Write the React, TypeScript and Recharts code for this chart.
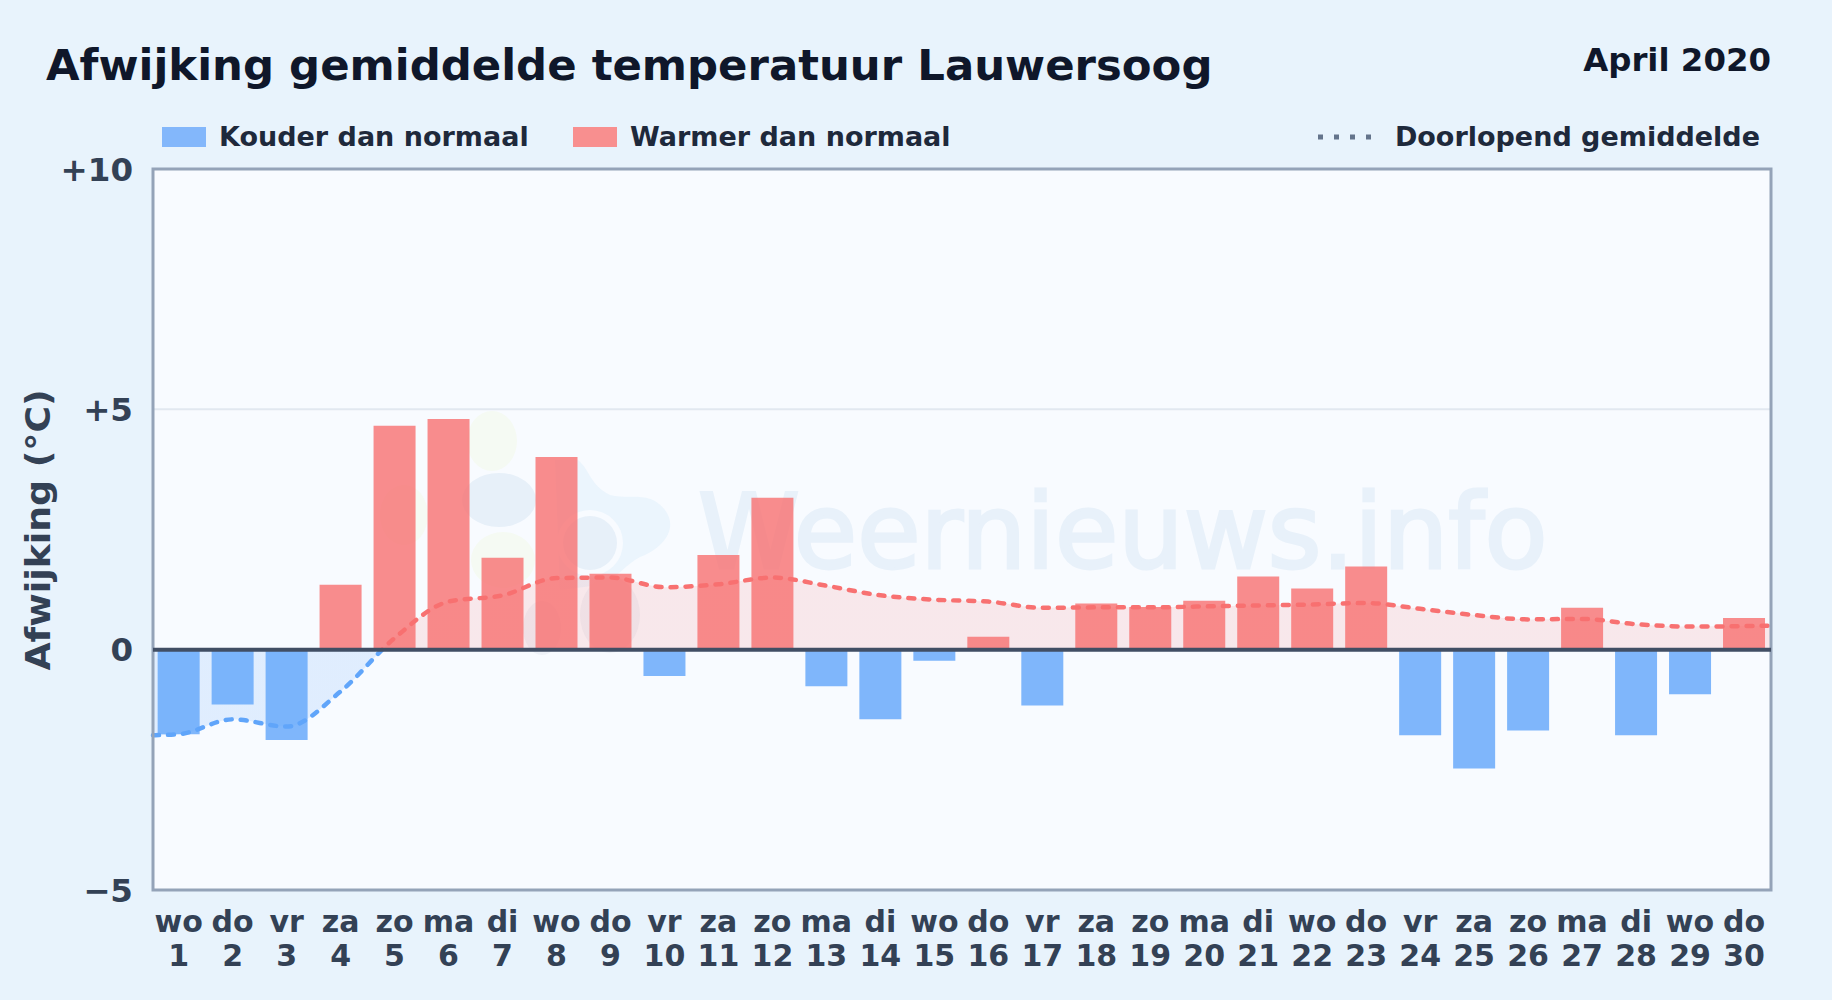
import {
  Area,
  Bar,
  CartesianGrid,
  ComposedChart,
  ReferenceArea,
  ReferenceLine,
  XAxis,
  YAxis,
} from "recharts";

const FONT = "'DejaVu Sans', sans-serif";

const WEEKDAYS = [
  "wo", "do", "vr", "za", "zo", "ma", "di", "wo", "do", "vr",
  "za", "zo", "ma", "di", "wo", "do", "vr", "za", "zo", "ma",
  "di", "wo", "do", "vr", "za", "zo", "ma", "di", "wo", "do",
];
const DAYS = WEEKDAYS.map((_, i) => i + 1);

const DEVIATION = [
  -1.76, -1.14, -1.88, 1.35, 4.66, 4.8, 1.91, 4.01, 1.58, -0.55,
  1.97, 3.16, -0.76, -1.45, -0.23, 0.27, -1.16, 0.96, 0.89, 1.02,
  1.52, 1.27, 1.73, -1.78, -2.47, -1.68, 0.87, -1.78, -0.93, 0.66,
];
const RUNNING_AVG = [
  -1.76, -1.45, -1.6, -0.87, 0.24, 1.0, 1.13, 1.49, 1.5, 1.3,
  1.36, 1.5, 1.33, 1.13, 1.04, 1.0, 0.87, 0.88, 0.88, 0.9,
  0.92, 0.94, 0.97, 0.85, 0.72, 0.63, 0.64, 0.53, 0.48, 0.49,
];
// the line runs on to the frame at both ends of the month
const AVG_START = -1.78;
const AVG_END = 0.5;

const Y_TICKS = [-5, 0, 5, 10];
const X_DOMAIN = [0.525, 30.5];

const barRows = DAYS.map((d, i) => ({
  x: d,
  cold: DEVIATION[i] < 0 ? DEVIATION[i] : null,
  warm: DEVIATION[i] > 0 ? DEVIATION[i] : null,
}));
const avgRows = [
  { x: X_DOMAIN[0], avg: AVG_START },
  ...DAYS.map((d, i) => ({ x: d, avg: RUNNING_AVG[i] })),
  { x: X_DOMAIN[1], avg: AVG_END },
];

const avgMax = Math.max(...RUNNING_AVG);
const avgMin = Math.min(...RUNNING_AVG, AVG_START);
const zeroAt = `${(avgMax / (avgMax - avgMin)) * 100}%`;

const formatY = (v: number) => (v > 0 ? `+${v}` : v < 0 ? `\u2212${-v}` : "0");

function DayTick({ x, y, payload }: any) {
  const d = payload.value;
  return (
    <text x={x} y={y} textAnchor="middle" fontFamily={FONT} fontWeight={700} fontSize={30} fill="#334155">
      <tspan x={x} y={y + 34}>{WEEKDAYS[d - 1]}</tspan>
      <tspan x={x} y={y + 68}>{d}</tspan>
    </text>
  );
}

function YLabel() {
  return (
    <text
      transform="translate(50,530) rotate(-90) scale(1.1,1)"
      textAnchor="middle"
      fontFamily={FONT}
      fontWeight={700}
      fontSize={33}
      fill="#334155"
    >
      Afwijking (°C)
    </text>
  );
}

function Watermark() {
  return (
    <svg width={1832} height={1000} style={{ position: "absolute", left: 0, top: 0 }}>
      <rect x={153} y={169} width={1618} height={721} fill="#f8fbff" />
      <ellipse cx={492} cy={441} rx={25} ry={30} fill="#f5faf3" />
      <ellipse cx={404} cy={515} rx={24} ry={30} fill="#f5faf3" />
      <ellipse cx={503} cy={560} rx={32} ry={28} fill="#f5faf3" />
      <path
        d="M578 460 C590 470 590 485 610 495 C630 500 650 490 665 510 C680 530 660 550 640 557 C625 565 615 580 600 585 L560 590 L555 460 Z"
        fill="#ebf5fd"
      />
      <ellipse cx={590} cy={543} rx={33} ry={33} fill="#f8fbff" />
      <ellipse cx={499} cy={500} rx={37} ry={27} fill="#e7f0f9" />
      <ellipse cx={590} cy={543} rx={27} ry={27} fill="#e7f0f9" />
      <ellipse cx={610} cy={615} rx={30} ry={38} fill="#eef2f8" />
      <ellipse cx={542} cy={628} rx={19} ry={27} fill="#eef2f8" />
      <text x={698} y={568} fontFamily={FONT} fontSize={103} fill="#e8f1fa" stroke="#e8f1fa" strokeWidth={3}>
        Weernieuws.info
      </text>
    </svg>
  );
}

function LegendSwatch({ left, color, label }: { left: number; color: string; label: string }) {
  return (
    <>
      <div style={{ position: "absolute", left, top: 127, width: 44, height: 20, background: color }} />
      <div style={{ position: "absolute", left: left + 57, top: 120, fontSize: 27, fontWeight: 700, color: "#1e293b", lineHeight: "34px", whiteSpace: "nowrap" }}>
        {label}
      </div>
    </>
  );
}

export default function App() {
  return (
    <div
      style={{
        position: "relative",
        width: 1832,
        height: 1000,
        overflow: "hidden",
        fontFamily: FONT,
        background: "#e8f3fc",
      }}
    >
      <style>{"body{margin:0}"}</style>
      <Watermark />
      <ComposedChart
        width={1832}
        height={1000}
        data={barRows}
        margin={{ top: 169, right: 61, bottom: 0, left: 73 }}
        style={{ position: "absolute", left: 0, top: 0 }}
      >
        <defs>
          <linearGradient id="avgStroke" x1="0" y1="0" x2="0" y2="1">
            <stop offset={zeroAt} stopColor="#f87171" />
            <stop offset={zeroAt} stopColor="#60a5fa" />
          </linearGradient>
          <linearGradient id="avgFill" x1="0" y1="0" x2="0" y2="1">
            <stop offset={zeroAt} stopColor="#f87171" stopOpacity={0.14} />
            <stop offset={zeroAt} stopColor="#60a5fa" stopOpacity={0.16} />
          </linearGradient>
        </defs>
        <CartesianGrid vertical={false} horizontalValues={[5]} stroke="#e2e8f0" strokeWidth={2} />
        <XAxis
          dataKey="x"
          type="number"
          domain={X_DOMAIN}
          ticks={DAYS}
          interval={0}
          tick={<DayTick />}
          tickLine={false}
          axisLine={false}
          height={110}
        />
        {/* separate axis for the line, otherwise its end rows narrow the bars */}
        <XAxis xAxisId="avg" dataKey="x" type="number" domain={X_DOMAIN} hide />
        <YAxis
          type="number"
          domain={[-5, 10]}
          ticks={Y_TICKS}
          tickFormatter={formatY}
          tick={{ fontFamily: FONT, fontWeight: 700, fontSize: 32.5, fill: "#334155" }}
          tickLine={false}
          tickSize={0}
          tickMargin={20}
          axisLine={false}
          width={80}
          label={<YLabel />}
        />
        <Area
          xAxisId="avg"
          data={avgRows}
          dataKey="avg"
          type="monotone"
          baseValue={0}
          stroke="url(#avgStroke)"
          fill="url(#avgFill)"
          fillOpacity={1}
          strokeWidth={4.5}
          strokeDasharray="6 9"
          strokeLinecap="round"
          dot={false}
          activeDot={false}
          isAnimationActive={false}
        />
        <Bar dataKey="cold" stackId="dev" barSize={42} fill="#60a5fa" fillOpacity={0.8} isAnimationActive={false} />
        <Bar dataKey="warm" stackId="dev" barSize={42} fill="#f87171" fillOpacity={0.8} isAnimationActive={false} />
        <ReferenceLine y={0} stroke="#414e64" strokeWidth={4} />
        <ReferenceArea x1={X_DOMAIN[0]} x2={X_DOMAIN[1]} y1={-5} y2={10} fill="none" stroke="#94a3b8" strokeWidth={3} />
      </ComposedChart>

      <div style={{ position: "absolute", left: 46, top: 38, fontSize: 43.4, fontWeight: 700, color: "#0f172a", lineHeight: "54px", whiteSpace: "nowrap" }}>
        Afwijking gemiddelde temperatuur Lauwersoog
      </div>
      <div style={{ position: "absolute", right: 61, top: 40, fontSize: 32.4, fontWeight: 700, color: "#0f172a", lineHeight: "40px", whiteSpace: "nowrap" }}>
        April 2020
      </div>
      <LegendSwatch left={162} color="#83b7fb" label="Kouder dan normaal" />
      <LegendSwatch left={573} color="#f88f8f" label="Warmer dan normaal" />
      <svg width={70} height={10} style={{ position: "absolute", left: 1312, top: 132 }}>
        <line x1={6} x2={62} y1={5} y2={5} stroke="#64748b" strokeWidth={5} strokeDasharray="5 11" />
      </svg>
      <div style={{ position: "absolute", right: 72, top: 120, fontSize: 27, fontWeight: 700, color: "#1e293b", lineHeight: "34px", whiteSpace: "nowrap" }}>
        Doorlopend gemiddelde
      </div>
    </div>
  );
}
